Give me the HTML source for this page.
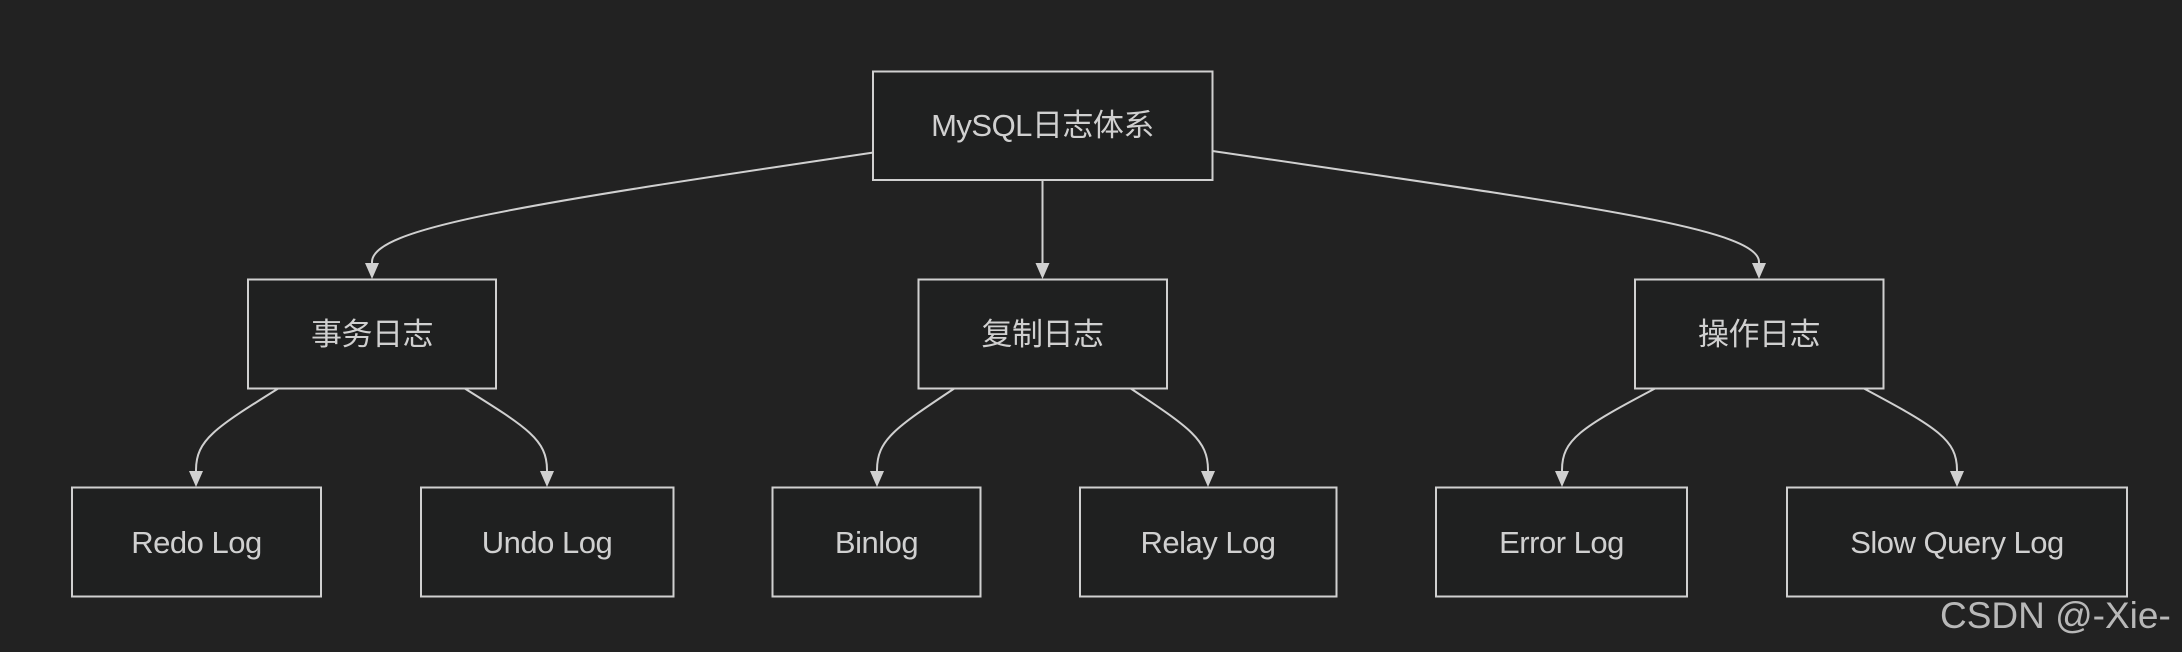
<!DOCTYPE html>
<html><head><meta charset="utf-8"><style>
html,body{margin:0;padding:0;background:#222222;}
svg{display:block}
text{font-family:"Liberation Sans","Noto Sans CJK SC",sans-serif;fill:#d0d0d0;}
</style></head><body>
<svg width="2182" height="652" viewBox="0 0 2182 652" xmlns="http://www.w3.org/2000/svg">
<rect width="2182" height="652" fill="#222222"/>
<g fill="none" stroke="#d0d0d0" stroke-width="2">
<path d="M872.7,152.6 C520,205 372,228 372,262 L372,264"/>
<path d="M1042.5,180 L1042.5,264"/>
<path d="M1212.5,151 C1580,205 1759,228 1759,262 L1759,264"/>
<path d="M279,388 C215,428 196,440 196,470 L196,472"/>
<path d="M464,388 C528,428 547,440 547,470 L547,472"/>
<path d="M955,388 C895,428 877,440 877,470 L877,472"/>
<path d="M1130,388 C1190,428 1208,440 1208,470 L1208,472"/>
<path d="M1656,388 C1580,428 1562,440 1562,470 L1562,472"/>
<path d="M1863,388 C1938,428 1957,440 1957,470 L1957,472"/>
</g>
<g fill="#d0d0d0">
<path d="M365,263 L379,263 L372,279 Z"/>
<path d="M1035.5,263 L1049.5,263 L1042.5,279 Z"/>
<path d="M1752,263 L1766,263 L1759,279 Z"/>
<path d="M189,471 L203,471 L196,487 Z"/>
<path d="M540,471 L554,471 L547,487 Z"/>
<path d="M870,471 L884,471 L877,487 Z"/>
<path d="M1201,471 L1215,471 L1208,487 Z"/>
<path d="M1555,471 L1569,471 L1562,487 Z"/>
<path d="M1950,471 L1964,471 L1957,487 Z"/>
</g>
<g fill="#1f2020" stroke="#d0d0d0" stroke-width="2">
<rect x="873" y="71.5" width="339.5" height="108.5"/>
<rect x="248" y="279.5" width="248" height="109"/>
<rect x="918.5" y="279.5" width="248.5" height="109"/>
<rect x="1635" y="279.5" width="248.5" height="109"/>
<rect x="72" y="487.5" width="249" height="109"/>
<rect x="421" y="487.5" width="252.5" height="109"/>
<rect x="772.5" y="487.5" width="208" height="109"/>
<rect x="1080" y="487.5" width="256.5" height="109"/>
<rect x="1436" y="487.5" width="251" height="109"/>
<rect x="1787" y="487.5" width="340" height="109"/>
</g>
<g font-size="31" text-anchor="middle" letter-spacing="-0.5">
<text x="1042.5" y="136">MySQL日志体系</text>
<text x="372" y="345">事务日志</text>
<text x="1042.5" y="345">复制日志</text>
<text x="1759" y="345">操作日志</text>
<text x="196.5" y="553">Redo Log</text>
<text x="547" y="553">Undo Log</text>
<text x="876.5" y="553">Binlog</text>
<text x="1208" y="553">Relay Log</text>
<text x="1561.5" y="553">Error Log</text>
<text x="1957" y="553">Slow Query Log</text>
</g>
<text x="1940" y="628" font-size="37" style="fill:#b8b8b8">CSDN @-Xie-</text>
</svg>
</body></html>
